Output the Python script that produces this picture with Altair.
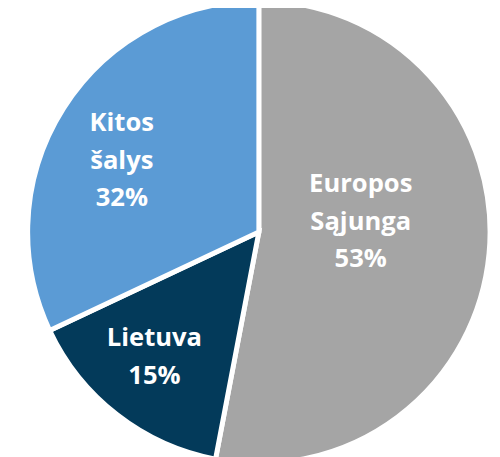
import altair as alt
import pandas as pd

categories = ["Europos Sąjunga", "Lietuva", "Kitos šalys"]
values = [53, 15, 32]
colors = ["#A5A5A5", "#033A5A", "#5B9BD5"]

df = pd.DataFrame({
    "cat": categories,
    "value": values,
    "order": list(range(len(categories))),
    "label": [c.replace(" ", "\n") + "\n" + f"{v}%" for c, v in zip(categories, values)],
})

CX, CY = 255, 224  # pie centre in chart coordinates
R = 235
LH = 38

base = alt.Chart(df).transform_window(
    cum="sum(value)", sort=[alt.SortField("order")]
).transform_calculate(
    mid="datum.cum - datum.value / 2"
)

arcs = base.mark_arc(radius=R, stroke="white", strokeWidth=5).encode(
    theta=alt.Theta("value:Q", stack=True),
    order=alt.Order("order:Q"),
    color=alt.Color("cat:N", scale=alt.Scale(domain=categories, range=colors), legend=None),
    x=alt.value(CX),
    y=alt.value(CY),
)

def label_layer(name, radius, dx, dy, nlines):
    return base.transform_filter(alt.datum.cat == name).mark_text(
        radius=radius, dx=dx, dy=dy - (nlines - 1) * LH / 2, font="Open Sans", fontWeight="bold",
        fontSize=26, color="white", lineBreak="\n", lineHeight=LH, align="center", baseline="middle",
    ).encode(
        theta=alt.Theta("mid:Q", stack=False,
                        scale=alt.Scale(domain=[0, 100], range=[0, 6.283185307179586])),
        text="label:N",
        x=alt.value(CX),
        y=alt.value(CY),
    )

chart = alt.layer(
    arcs,
    label_layer("Europos Sąjunga", 102, 2, -20, 3),
    label_layer("Kitos šalys", 152, -11, 9, 3),
    label_layer("Lietuva", 165, -5, -3, 2),
).resolve_scale(theta="independent").properties(
    width=492, height=449, padding=0,
    autosize=alt.AutoSizeParams(type="none"),
).configure_view(stroke=None)

chart.save("out.html", embed_options={"renderer": "svg", "actions": False})
